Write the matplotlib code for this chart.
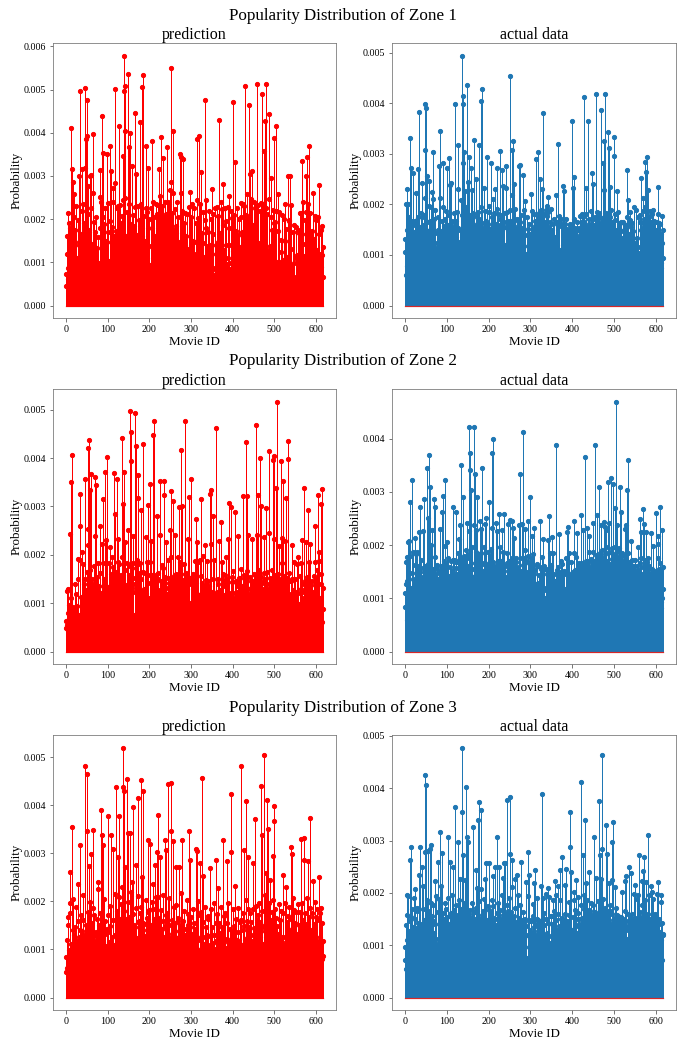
import numpy as np
import matplotlib
matplotlib.use('Agg')
import matplotlib.pyplot as plt

# probabilities are typed in units of 1e-5 (so 578 -> 0.00578)
SCALE = 1e-5

zone1_pred = [
    73, 45, 160, 119, 62, 88, 215, 192, 54, 136, 70, 180, 411, 96, 316, 58, 124, 285, 74, 205,
    258, 175, 52, 148, 86, 230, 64, 110, 42, 198, 77, 299, 140, 497, 60, 102, 166, 48, 220, 316,
    82, 236, 57, 130, 190, 318, 68, 503, 150, 385, 393, 476, 94, 212, 277, 60, 176, 44, 300, 118,
    225, 302, 66, 142, 260, 80, 397, 193, 50, 108, 170, 38, 92, 206, 56, 134, 74, 158, 46, 98,
    64, 251, 180, 314, 90, 240, 438, 58, 206, 128, 354, 72, 188, 45, 112, 226, 84, 150, 351, 60,
    170, 66, 238, 102, 55, 196, 370, 84, 147, 312, 62, 182, 118, 240, 271, 76, 160, 50, 283, 501,
    88, 172, 46, 226, 231, 70, 150, 415, 58, 232, 104, 64, 190, 120, 207, 80, 245, 346, 131, 579,
    496, 509, 403, 250, 72, 162, 216, 60, 133, 537, 112, 368, 236, 70, 399, 118, 188, 54, 323, 98,
    210, 66, 140, 183, 52, 445, 107, 228, 78, 305, 164, 46, 230, 96, 144, 62, 198, 426, 72, 137,
    236, 86, 161, 505, 66, 534, 118, 208, 74, 150, 48, 226, 88, 370, 130, 217, 58, 319, 180, 70,
    201, 94, 52, 226, 138, 64, 180, 382, 82, 240, 110, 56, 204, 92, 162, 236, 48, 118, 212, 80,
    165, 70, 232, 316, 62, 253, 98, 186, 54, 391, 140, 230, 76, 341, 56, 204, 152, 87, 240, 93,
    130, 212, 366, 64, 240, 110, 190, 58, 236, 268, 76, 550, 138, 285, 94, 214, 60, 260, 403, 176,
    110, 54, 223, 89, 168, 185, 60, 240, 114, 72, 206, 50, 146, 351, 99, 261, 64, 345, 137, 220,
    162, 58, 339, 190, 53, 118, 215, 44, 96, 160, 61, 212, 84, 130, 52, 228, 63, 95, 264, 140,
    206, 74, 235, 52, 150, 98, 62, 146, 226, 56, 113, 190, 68, 120, 386, 245, 90, 56, 203, 393,
    100, 236, 157, 55, 91, 310, 168, 59, 145, 216, 48, 112, 90, 475, 197, 245, 65, 180, 138, 62,
    170, 78, 125, 220, 54, 140, 96, 60, 200, 65, 270, 83, 165, 59, 212, 71, 53, 226, 86, 140,
    120, 57, 228, 78, 148, 66, 208, 430, 52, 168, 102, 240, 75, 122, 224, 60, 186, 281, 68, 129,
    82, 226, 70, 140, 62, 196, 95, 55, 227, 74, 110, 180, 254, 85, 56, 220, 98, 141, 64, 202,
    72, 471, 126, 68, 210, 106, 333, 61, 172, 58, 118, 226, 50, 163, 117, 71, 200, 50, 136, 238,
    76, 205, 60, 170, 136, 90, 236, 230, 57, 165, 509, 140, 86, 210, 70, 258, 148, 78, 205, 465,
    96, 305, 176, 64, 247, 61, 108, 312, 187, 55, 145, 240, 53, 226, 90, 144, 71, 230, 110, 513,
    110, 232, 79, 60, 144, 220, 74, 103, 237, 90, 490, 63, 236, 92, 119, 358, 162, 428, 85, 226,
    514, 131, 72, 213, 68, 125, 247, 60, 444, 138, 92, 205, 69, 295, 176, 50, 222, 98, 70, 192,
    389, 90, 194, 415, 60, 220, 57, 101, 172, 258, 89, 60, 216, 58, 100, 152, 50, 124, 210, 64,
    56, 105, 200, 70, 62, 150, 236, 60, 97, 178, 45, 113, 299, 62, 198, 80, 195, 301, 72, 131,
    76, 233, 60, 93, 170, 53, 98, 66, 187, 43, 62, 182, 110, 38, 116, 64, 175, 48, 96, 57,
    168, 46, 215, 70, 95, 215, 335, 166, 60, 240, 72, 115, 60, 198, 143, 50, 216, 300, 97, 345,
    236, 70, 370, 113, 62, 215, 88, 55, 168, 65, 92, 172, 260, 50, 154, 126, 56, 208, 108, 55,
    198, 58, 128, 57, 206, 70, 115, 165, 280, 58, 120, 175, 62, 90, 117, 185, 136, 67,
]

zone1_actual = [
    132, 105, 60, 200, 150, 78, 230, 201, 90, 176, 55, 140, 332, 150, 72, 273, 118, 168, 66, 160,
    262, 80, 145, 168, 58, 130, 222, 74, 170, 104, 62, 176, 270, 112, 384, 148, 70, 156, 96, 184,
    243, 68, 176, 120, 159, 92, 180, 398, 212, 307, 391, 76, 166, 257, 60, 148, 140, 198, 247, 84,
    150, 168, 82, 196, 224, 64, 303, 128, 210, 70, 172, 58, 124, 190, 80, 114, 143, 68, 150, 96,
    176, 276, 124, 212, 66, 346, 130, 147, 90, 168, 283, 72, 196, 158, 58, 145, 172, 84, 188, 104,
    273, 96, 160, 151, 70, 180, 293, 130, 239, 62, 242, 114, 168, 86, 155, 68, 146, 184, 90, 398,
    164, 92, 167, 136, 76, 186, 230, 154, 317, 126, 72, 149, 98, 150, 208, 84, 180, 495, 398, 415,
    283, 166, 304, 120, 226, 80, 196, 150, 140, 437, 164, 244, 116, 295, 170, 180, 94, 156, 273, 150,
    228, 90, 184, 176, 70, 328, 144, 157, 88, 251, 146, 76, 162, 180, 94, 186, 66, 172, 318, 128,
    170, 405, 86, 196, 146, 429, 154, 74, 164, 233, 80, 188, 120, 168, 144, 72, 294, 136, 162, 90,
    186, 74, 198, 124, 151, 282, 96, 176, 154, 66, 210, 138, 184, 80, 146, 230, 120, 162, 70, 192,
    272, 104, 182, 159, 94, 154, 138, 172, 306, 76, 180, 269, 86, 148, 237, 78, 156, 184, 166, 92,
    120, 232, 276, 84, 186, 154, 96, 168, 150, 163, 454, 82, 190, 168, 106, 218, 307, 112, 325, 160,
    150, 240, 84, 192, 114, 152, 72, 172, 146, 90, 158, 168, 112, 277, 154, 278, 166, 86, 180, 92,
    154, 80, 259, 152, 62, 190, 140, 56, 206, 102, 50, 176, 65, 118, 152, 70, 162, 88, 128, 58,
    142, 220, 82, 188, 64, 144, 152, 68, 182, 74, 158, 168, 90, 290, 120, 180, 157, 304, 112, 166,
    184, 70, 146, 251, 162, 84, 190, 144, 231, 90, 152, 381, 64, 182, 166, 74, 148, 94, 190, 178,
    198, 72, 186, 215, 100, 156, 70, 166, 192, 62, 124, 150, 78, 162, 68, 132, 172, 60, 136, 96,
    218, 134, 64, 112, 166, 82, 166, 320, 100, 178, 110, 74, 172, 68, 158, 94, 162, 120, 237, 86,
    144, 226, 76, 162, 92, 66, 172, 152, 80, 128, 150, 68, 144, 74, 159, 162, 94, 154, 68, 366,
    146, 232, 70, 172, 94, 255, 82, 154, 140, 72, 148, 166, 92, 66, 134, 150, 76, 154, 64, 177,
    166, 82, 149, 182, 110, 94, 176, 166, 412, 120, 158, 84, 233, 182, 124, 152, 84, 148, 366, 172,
    161, 106, 158, 82, 188, 114, 262, 152, 94, 241, 172, 74, 160, 154, 108, 175, 84, 419, 186, 116,
    154, 94, 172, 82, 184, 179, 110, 164, 94, 388, 174, 150, 132, 283, 100, 325, 228, 178, 112, 419,
    184, 156, 106, 161, 172, 94, 343, 311, 152, 108, 234, 176, 120, 190, 84, 166, 164, 110, 157, 296,
    333, 80, 182, 169, 114, 150, 94, 226, 134, 84, 186, 106, 162, 98, 164, 84, 148, 166, 82, 134,
    116, 166, 66, 124, 150, 74, 159, 110, 90, 154, 176, 269, 74, 162, 208, 86, 142, 170, 94, 186,
    156, 68, 164, 84, 148, 72, 134, 196, 86, 62, 124, 80, 190, 70, 64, 134, 56, 116, 176, 52,
    104, 166, 94, 180, 150, 252, 102, 153, 164, 188, 212, 112, 172, 196, 284, 94, 265, 171, 294, 180,
    150, 228, 116, 176, 84, 188, 166, 100, 166, 94, 182, 157, 84, 146, 190, 70, 168, 166, 78, 150,
    84, 142, 166, 70, 146, 234, 182, 94, 164, 161, 110, 84, 142, 74, 178, 124, 149, 95,
]

zone2_pred = [
    63, 48, 126, 55, 80, 42, 130, 70, 96, 52, 243, 66, 351, 110, 58, 406, 75, 44, 92, 60,
    88, 52, 139, 72, 118, 45, 95, 64, 191, 67, 150, 58, 76, 260, 190, 326, 68, 112, 205, 94,
    64, 180, 77, 140, 56, 356, 70, 150, 128, 62, 165, 84, 220, 254, 421, 98, 438, 334, 145, 169,
    124, 368, 58, 150, 140, 70, 86, 176, 52, 238, 132, 361, 60, 345, 104, 154, 69, 182, 55, 136,
    98, 162, 68, 259, 120, 56, 222, 60, 316, 110, 184, 52, 150, 371, 76, 140, 92, 231, 403, 106,
    134, 58, 100, 184, 50, 217, 71, 96, 160, 58, 196, 86, 65, 175, 142, 48, 369, 104, 118, 284,
    95, 164, 357, 62, 186, 70, 233, 96, 180, 52, 151, 143, 60, 158, 196, 441, 120, 147, 306, 108,
    372, 66, 168, 226, 80, 138, 184, 54, 116, 252, 98, 159, 86, 120, 176, 498, 453, 393, 132, 172,
    140, 238, 182, 66, 76, 153, 493, 124, 56, 426, 190, 64, 181, 366, 317, 104, 158, 184, 162, 60,
    150, 292, 126, 58, 164, 108, 430, 94, 130, 72, 162, 237, 118, 64, 186, 76, 142, 303, 159, 98,
    110, 186, 347, 62, 228, 72, 158, 120, 447, 90, 156, 62, 477, 84, 149, 136, 64, 158, 281, 106,
    128, 162, 150, 62, 118, 240, 352, 104, 146, 60, 126, 178, 112, 172, 68, 324, 353, 120, 154, 76,
    100, 227, 118, 68, 132, 190, 151, 72, 142, 252, 82, 196, 128, 332, 106, 152, 312, 134, 143, 156,
    124, 64, 240, 82, 112, 160, 158, 128, 56, 196, 104, 299, 62, 186, 169, 130, 86, 417, 138, 300,
    112, 148, 60, 134, 180, 476, 161, 88, 162, 56, 153, 80, 144, 232, 60, 152, 319, 100, 84, 150,
    140, 357, 66, 154, 160, 86, 130, 144, 62, 148, 188, 52, 274, 112, 226, 84, 104, 186, 52, 116,
    96, 190, 60, 118, 157, 316, 70, 142, 54, 198, 98, 136, 64, 110, 220, 128, 54, 148, 66, 188,
    120, 60, 146, 136, 62, 326, 114, 223, 333, 76, 124, 58, 150, 281, 104, 66, 190, 110, 56, 118,
    98, 462, 124, 62, 150, 140, 54, 116, 229, 66, 128, 102, 54, 267, 186, 72, 136, 148, 160, 68,
    116, 159, 140, 58, 108, 196, 70, 150, 112, 54, 232, 100, 308, 68, 118, 299, 122, 60, 154, 144,
    98, 120, 167, 62, 110, 288, 64, 146, 144, 58, 124, 108, 238, 66, 136, 96, 152, 151, 60, 128,
    92, 170, 136, 58, 321, 120, 64, 158, 104, 126, 149, 434, 150, 62, 166, 321, 130, 62, 240, 94,
    118, 154, 66, 132, 146, 92, 124, 233, 64, 146, 106, 160, 54, 138, 159, 128, 469, 100, 241, 96,
    134, 324, 108, 168, 60, 126, 400, 300, 155, 56, 142, 144, 130, 66, 237, 162, 110, 148, 150, 124,
    106, 296, 140, 164, 60, 130, 246, 414, 124, 153, 68, 116, 146, 134, 64, 169, 397, 120, 74, 232,
    405, 128, 158, 338, 112, 66, 140, 517, 124, 160, 218, 60, 136, 147, 126, 68, 150, 393, 234, 182,
    353, 104, 138, 156, 66, 110, 228, 152, 60, 317, 88, 151, 436, 399, 112, 146, 162, 64, 106, 146,
    118, 62, 150, 220, 52, 128, 114, 186, 54, 96, 150, 124, 60, 118, 180, 54, 122, 196, 60, 86,
    98, 156, 64, 130, 184, 62, 124, 231, 102, 58, 140, 338, 110, 146, 56, 116, 226, 104, 154, 60,
    292, 96, 186, 58, 130, 106, 223, 64, 138, 100, 54, 146, 92, 124, 157, 56, 112, 186, 259, 60,
    98, 150, 168, 60, 323, 104, 188, 52, 206, 110, 66, 140, 306, 160, 60, 337, 88, 131,
]

zone2_actual = [
    110, 84, 127, 169, 60, 132, 177, 58, 206, 74, 208, 282, 92, 180, 56, 120, 322, 64, 148, 137,
    188, 66, 132, 162, 214, 58, 184, 62, 126, 188, 70, 161, 72, 224, 86, 150, 271, 64, 172, 157,
    86, 139, 68, 140, 227, 287, 60, 134, 150, 160, 64, 158, 146, 345, 96, 164, 251, 369, 110, 60,
    310, 106, 60, 201, 138, 229, 156, 66, 150, 90, 287, 62, 271, 178, 146, 60, 155, 162, 86, 120,
    136, 150, 60, 231, 136, 72, 160, 148, 262, 116, 60, 148, 292, 170, 122, 64, 322, 199, 164, 82,
    104, 206, 60, 92, 176, 142, 64, 159, 60, 170, 78, 134, 151, 66, 172, 271, 150, 86, 172, 143,
    120, 157, 168, 263, 84, 146, 186, 169, 76, 212, 172, 80, 238, 154, 350, 98, 176, 162, 160, 176,
    290, 122, 180, 173, 152, 146, 94, 190, 241, 176, 102, 160, 227, 184, 423, 342, 373, 166, 303, 142,
    155, 196, 140, 98, 238, 423, 124, 156, 334, 150, 228, 188, 92, 290, 169, 176, 100, 164, 183, 246,
    138, 231, 186, 120, 167, 345, 152, 100, 164, 196, 90, 164, 239, 80, 251, 146, 153, 160, 188, 106,
    282, 132, 167, 180, 126, 154, 192, 373, 116, 233, 399, 168, 106, 161, 96, 140, 159, 88, 242, 110,
    144, 226, 100, 170, 259, 120, 158, 196, 138, 104, 171, 126, 84, 228, 112, 188, 259, 98, 152, 102,
    161, 108, 140, 166, 186, 124, 239, 96, 170, 102, 248, 118, 166, 90, 162, 157, 176, 245, 98, 233,
    120, 214, 168, 106, 80, 168, 176, 100, 159, 88, 150, 154, 96, 237, 104, 86, 334, 151, 108, 176,
    240, 130, 412, 163, 176, 98, 190, 231, 94, 170, 88, 149, 108, 180, 245, 96, 166, 84, 168, 110,
    290, 106, 176, 218, 140, 70, 184, 88, 146, 232, 126, 64, 153, 82, 120, 161, 164, 78, 128, 86,
    144, 84, 158, 70, 245, 156, 72, 178, 62, 146, 211, 58, 120, 160, 62, 100, 156, 68, 116, 82,
    153, 72, 150, 209, 84, 255, 66, 186, 160, 62, 162, 72, 216, 94, 186, 64, 110, 145, 132, 86,
    389, 120, 62, 154, 88, 126, 158, 70, 104, 220, 150, 66, 122, 170, 64, 164, 148, 146, 76, 112,
    148, 151, 68, 118, 176, 72, 146, 225, 68, 120, 235, 186, 64, 143, 102, 144, 72, 168, 88, 120,
    147, 86, 150, 245, 78, 186, 84, 154, 178, 60, 150, 223, 108, 164, 62, 166, 148, 72, 159, 152,
    256, 96, 153, 84, 166, 100, 229, 156, 92, 164, 365, 106, 171, 160, 232, 98, 150, 80, 170, 187,
    90, 218, 158, 100, 173, 84, 166, 149, 126, 188, 241, 92, 170, 164, 389, 160, 102, 181, 176, 110,
    256, 154, 176, 110, 310, 142, 168, 186, 112, 238, 102, 190, 159, 176, 96, 170, 243, 235, 184, 110,
    196, 228, 130, 170, 157, 318, 110, 188, 241, 162, 96, 164, 326, 130, 194, 173, 186, 136, 315, 149,
    182, 270, 166, 196, 100, 470, 238, 120, 188, 154, 178, 126, 194, 169, 310, 132, 152, 263, 120, 186,
    147, 170, 116, 161, 180, 110, 166, 230, 140, 238, 132, 303, 186, 360, 154, 168, 90, 159, 116, 84,
    162, 208, 172, 80, 136, 157, 74, 160, 88, 143, 78, 172, 96, 152, 70, 160, 196, 144, 76, 120,
    153, 250, 86, 166, 224, 176, 110, 146, 158, 268, 92, 159, 240, 100, 172, 148, 160, 224, 92, 168,
    141, 176, 88, 160, 155, 146, 84, 222, 70, 142, 147, 156, 74, 144, 198, 138, 86, 150, 151, 116,
    260, 94, 149, 80, 203, 218, 176, 110, 156, 166, 271, 94, 153, 82, 229, 100, 158, 117,
]

zone3_pred = [
    54, 85, 120, 62, 168, 48, 150, 98, 56, 175, 196, 261, 74, 112, 354, 60, 141, 205, 70, 130,
    58, 146, 104, 62, 188, 84, 118, 50, 160, 236, 66, 125, 92, 58, 318, 140, 172, 52, 96, 139,
    162, 68, 214, 80, 130, 56, 104, 481, 150, 62, 347, 465, 178, 96, 120, 273, 58, 140, 198, 66,
    112, 298, 156, 52, 349, 186, 76, 128, 172, 62, 118, 94, 54, 136, 164, 70, 102, 226, 241, 64,
    150, 102, 56, 176, 389, 116, 60, 338, 130, 318, 86, 204, 70, 132, 64, 160, 108, 52, 142, 84,
    136, 172, 378, 72, 116, 148, 62, 190, 337, 104, 58, 126, 309, 76, 162, 110, 62, 216, 130, 86,
    437, 84, 180, 150, 72, 293, 118, 210, 378, 62, 164, 142, 76, 194, 68, 230, 104, 520, 437, 429,
    180, 126, 272, 96, 122, 164, 84, 454, 154, 198, 343, 92, 168, 342, 142, 100, 220, 86, 240, 114,
    132, 174, 396, 88, 150, 118, 72, 146, 276, 186, 124, 84, 212, 158, 415, 98, 160, 80, 176, 453,
    116, 188, 140, 250, 430, 92, 154, 152, 74, 118, 128, 96, 202, 82, 140, 166, 327, 124, 178, 92,
    182, 84, 320, 98, 148, 150, 76, 198, 184, 236, 106, 164, 140, 88, 275, 112, 96, 210, 112, 302,
    210, 379, 104, 166, 156, 292, 90, 118, 120, 182, 84, 142, 214, 78, 160, 126, 112, 327, 148, 307,
    120, 172, 176, 92, 444, 132, 98, 150, 206, 86, 124, 347, 110, 446, 118, 162, 100, 325, 136, 188,
    84, 154, 138, 271, 80, 192, 124, 96, 166, 160, 88, 126, 271, 76, 148, 112, 150, 218, 84, 328,
    98, 160, 116, 72, 180, 130, 96, 142, 84, 70, 202, 122, 150, 92, 174, 347, 80, 146, 286, 128,
    110, 168, 90, 132, 74, 184, 120, 98, 154, 84, 142, 66, 309, 104, 304, 126, 172, 88, 200, 78,
    96, 280, 120, 86, 178, 100, 72, 456, 126, 158, 252, 74, 112, 188, 92, 68, 146, 96, 130, 84,
    110, 169, 164, 76, 102, 128, 269, 74, 184, 106, 82, 146, 114, 96, 72, 196, 130, 100, 84, 156,
    286, 118, 90, 174, 72, 116, 227, 80, 154, 134, 86, 110, 188, 72, 98, 146, 327, 84, 112, 170,
    76, 122, 176, 96, 80, 104, 156, 284, 116, 86, 196, 108, 90, 142, 84, 423, 122, 302, 92, 136,
    184, 110, 78, 148, 126, 232, 94, 112, 84, 164, 100, 120, 72, 186, 136, 88, 116, 158, 104, 92,
    481, 162, 110, 94, 176, 140, 82, 148, 307, 120, 106, 202, 408, 74, 124, 160, 88, 184, 293, 100,
    146, 84, 176, 96, 130, 158, 118, 76, 280, 184, 106, 92, 144, 372, 88, 140, 190, 120, 162, 80,
    110, 172, 84, 196, 124, 100, 158, 94, 439, 138, 180, 338, 76, 112, 146, 505, 94, 214, 150, 259,
    90, 126, 174, 411, 96, 351, 196, 150, 108, 245, 84, 162, 130, 116, 178, 98, 202, 295, 140, 368,
    399, 184, 110, 94, 166, 120, 78, 148, 106, 132, 86, 194, 116, 92, 162, 104, 74, 180, 126, 88,
    176, 254, 94, 110, 80, 196, 126, 98, 229, 116, 158, 84, 142, 170, 90, 112, 188, 78, 136, 313,
    164, 88, 110, 298, 126, 206, 182, 94, 80, 156, 104, 120, 178, 90, 132, 76, 194, 116, 98, 150,
    120, 178, 96, 329, 138, 108, 196, 86, 150, 162, 100, 286, 331, 80, 176, 124, 152, 94, 118, 206,
    283, 110, 168, 92, 124, 374, 186, 100, 140, 84, 176, 118, 243, 96, 152, 76, 130, 198, 106, 88,
    168, 96, 118, 184, 84, 110, 162, 92, 250, 126, 176, 88, 186, 112, 154, 80, 117, 87,
]

zone3_actual = [
    96, 72, 139, 54, 158, 110, 196, 66, 194, 92, 128, 263, 58, 146, 154, 287, 88, 170, 70, 134,
    98, 191, 62, 150, 208, 116, 68, 132, 84, 172, 166, 110, 142, 235, 66, 287, 124, 74, 140, 96,
    249, 104, 62, 170, 214, 76, 148, 426, 112, 278, 90, 407, 186, 64, 166, 281, 100, 158, 146, 78,
    284, 92, 180, 292, 64, 156, 146, 84, 176, 58, 124, 222, 140, 68, 112, 194, 78, 102, 164, 86,
    259, 96, 188, 60, 316, 84, 160, 214, 277, 130, 66, 118, 162, 150, 76, 126, 180, 62, 142, 170,
    88, 154, 306, 66, 190, 78, 140, 259, 156, 86, 162, 58, 130, 196, 114, 249, 72, 168, 120, 364,
    110, 176, 64, 158, 82, 154, 297, 100, 122, 186, 70, 148, 226, 170, 64, 130, 355, 478, 160, 116,
    273, 96, 180, 224, 150, 68, 166, 402, 112, 306, 140, 297, 84, 160, 130, 62, 168, 152, 150, 94,
    136, 180, 326, 72, 164, 164, 88, 150, 118, 244, 66, 172, 210, 108, 340, 146, 70, 184, 374, 122,
    150, 208, 74, 359, 136, 158, 166, 88, 188, 64, 142, 226, 100, 130, 258, 82, 148, 146, 174, 76,
    258, 104, 168, 162, 70, 156, 118, 186, 68, 140, 232, 174, 64, 152, 120, 150, 249, 138, 78, 162,
    307, 96, 180, 64, 249, 140, 158, 168, 66, 150, 124, 196, 80, 136, 228, 68, 257, 120, 144, 144,
    257, 132, 160, 378, 82, 176, 166, 148, 70, 190, 274, 106, 383, 140, 164, 72, 263, 212, 150, 98,
    104, 156, 226, 70, 172, 110, 144, 235, 68, 126, 196, 88, 140, 152, 176, 66, 132, 259, 106, 148,
    70, 126, 164, 146, 142, 64, 118, 96, 150, 220, 136, 58, 76, 278, 120, 194, 146, 235, 68, 130,
    112, 146, 148, 60, 124, 178, 156, 72, 134, 218, 82, 140, 244, 66, 120, 190, 150, 74, 148, 128,
    76, 132, 140, 146, 62, 90, 214, 389, 84, 191, 112, 56, 138, 162, 120, 72, 150, 94, 198, 86,
    124, 64, 142, 210, 88, 192, 104, 66, 156, 156, 118, 70, 140, 186, 62, 128, 74, 166, 100, 222,
    116, 196, 148, 64, 130, 214, 160, 68, 136, 96, 244, 186, 72, 150, 102, 152, 268, 64, 140, 146,
    68, 138, 216, 160, 74, 126, 246, 96, 146, 144, 62, 134, 182, 158, 354, 287, 118, 72, 240, 130,
    104, 154, 68, 202, 120, 186, 168, 70, 136, 224, 150, 66, 124, 192, 162, 76, 150, 140, 64, 132,
    176, 412, 110, 152, 74, 273, 132, 196, 170, 68, 340, 122, 218, 76, 186, 112, 160, 154, 138, 240,
    120, 168, 166, 144, 72, 180, 88, 158, 130, 64, 176, 144, 307, 140, 76, 164, 228, 150, 96, 146,
    160, 152, 184, 375, 74, 146, 273, 124, 226, 66, 283, 464, 140, 148, 188, 70, 156, 164, 172, 78,
    150, 330, 108, 274, 156, 68, 166, 218, 148, 76, 176, 166, 140, 68, 160, 297, 225, 335, 118, 144,
    130, 66, 152, 212, 172, 70, 140, 158, 100, 156, 64, 130, 146, 148, 72, 124, 154, 80, 140, 202,
    96, 150, 120, 66, 142, 222, 166, 72, 130, 232, 112, 64, 160, 146, 136, 70, 249, 90, 146, 158,
    124, 239, 66, 160, 150, 86, 140, 198, 72, 152, 104, 216, 60, 146, 188, 66, 124, 196, 102, 70,
    273, 104, 164, 154, 76, 150, 222, 176, 68, 140, 241, 120, 268, 186, 156, 72, 152, 221, 116, 148,
    74, 160, 310, 196, 138, 68, 150, 214, 130, 66, 201, 120, 188, 148, 70, 152, 136, 84, 160, 158,
    118, 146, 72, 198, 108, 221, 88, 140, 150, 66, 126, 196, 182, 110, 143, 72, 120, 121,
]

zone_titles = ['Popularity Distribution of Zone 1',
               'Popularity Distribution of Zone 2',
               'Popularity Distribution of Zone 3']
panel_titles = ['prediction', 'actual data']
zones = [(zone1_pred, zone1_actual),
         (zone2_pred, zone2_actual),
         (zone3_pred, zone3_actual)]

plt.rcParams['font.family'] = ['Liberation Serif', 'DejaVu Serif']

W, H = 686, 1040
fig = plt.figure(figsize=(W / 72, H / 72), dpi=72)

# axes boxes in pixels: left, top, right, bottom
row_tops = [43, 389, 735]
row_height = 275
col_lr = [(53, 336), (392, 676)]
zone_title_baseline = [20, 365, 712]


def add_ax(left, top, right, bottom):
    return fig.add_axes([left / W, 1 - bottom / H, (right - left) / W, (bottom - top) / H])


for r, (pred, actual) in enumerate(zones):
    top = row_tops[r]
    fig.text(0.5, 1 - zone_title_baseline[r] / H, zone_titles[r],
             ha='center', va='baseline', fontsize=17)
    for c, vals in enumerate([pred, actual]):
        left, right = col_lr[c]
        ax = add_ax(left, top, right, top + row_height)
        y = np.array(vals) * SCALE
        x = np.arange(len(y))
        if c == 0:
            markers, stems, base = ax.stem(x, y, linefmt='r-', markerfmt='ro', basefmt='r-')
        else:
            markers, stems, base = ax.stem(x, y)
        stems.set_linewidth(1.0)
        markers.set_markersize(4.2)
        base.set_linewidth(1.2)
        ax.set_title(panel_titles[c], fontsize=16, pad=3.5)
        ax.set_xlabel('Movie ID', fontsize=13, labelpad=2)
        ax.set_ylabel('Probability', fontsize=13, labelpad=1)
        ax.tick_params(labelsize=10, color='#555555')
        for sp in ax.spines.values():
            sp.set_edgecolor('#777777')

fig.savefig('out.png', dpi=72)
